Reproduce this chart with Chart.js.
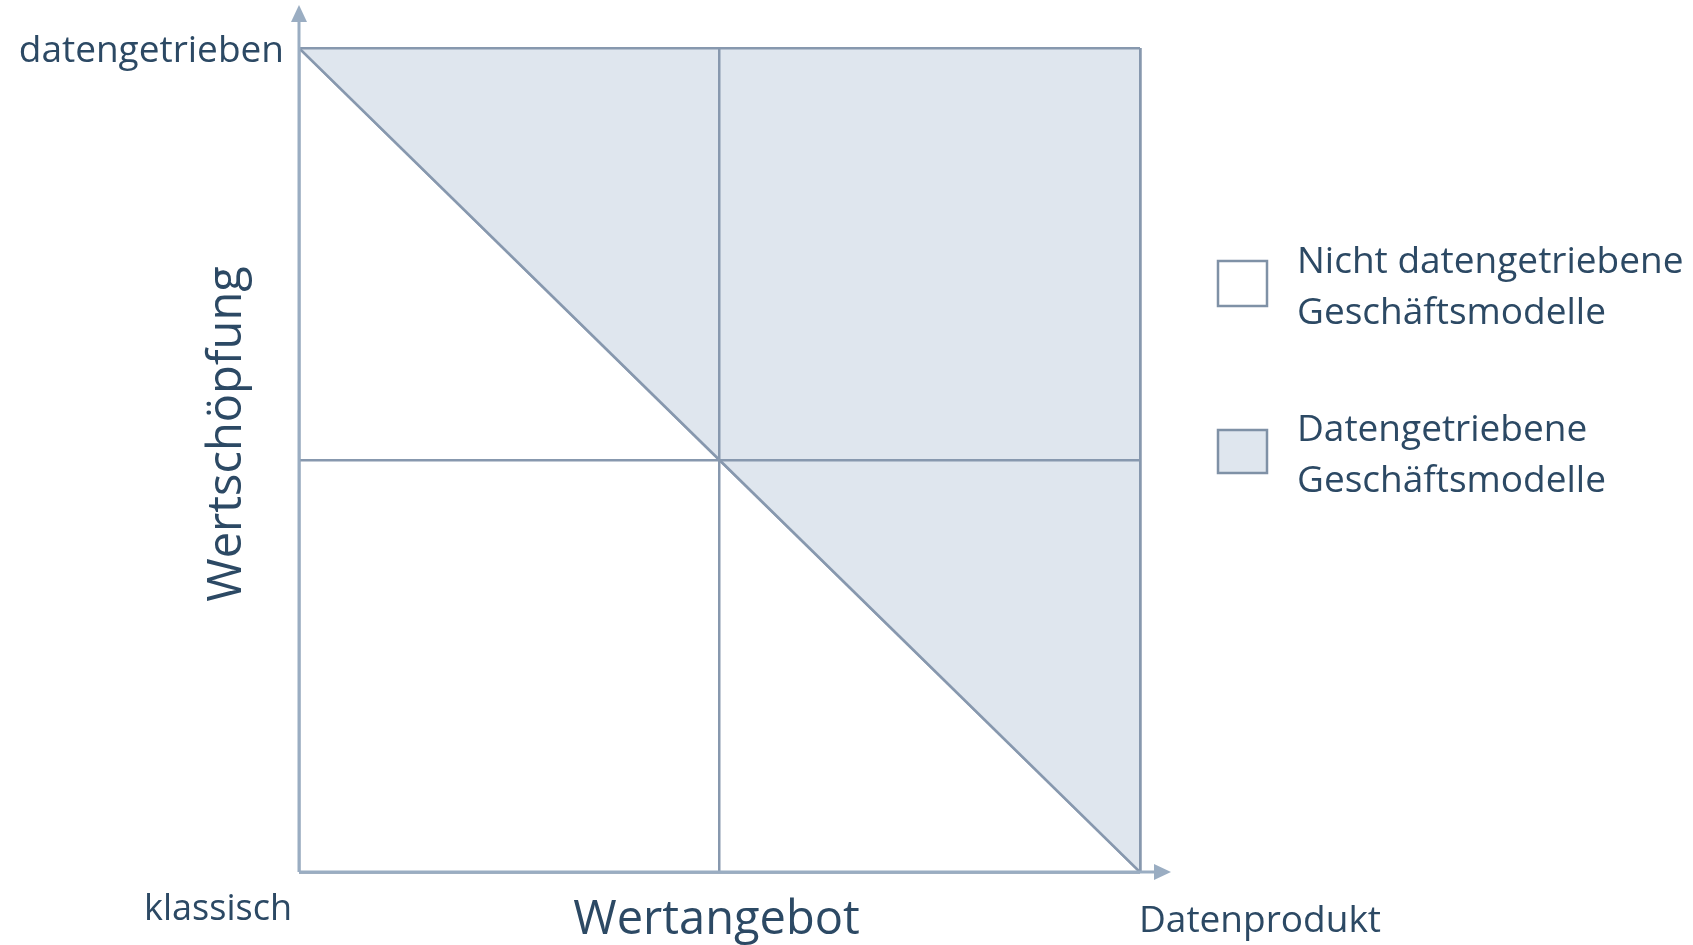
<!DOCTYPE html>
<html>
<head>
<meta charset="utf-8">
<script src="https://cdn.jsdelivr.net/npm/chart.js@4/dist/chart.umd.min.js"></script>
<style>
  html, body { margin: 0; padding: 0; background: #fff; }
  #wrap { width: 1693px; height: 945px; }
</style>
</head>
<body>
<div id="wrap"><canvas id="chart" width="1693" height="945"></canvas></div>
<script>
// Data
const seriesLabels = ["Nicht datengetriebene Geschäftsmodelle", "Datengetriebene Geschäftsmodelle"];
const diagonalX = [0, 1, 2];
const diagonalY = [2, 1, 0];
const xTickLabels = ["klassisch", "Datenprodukt"];
const yTickLabels = ["klassisch", "datengetrieben"];
const xTitle = "Wertangebot";
const yTitle = "Wertschöpfung";

const lineColor = '#8798ae';
const axisColor = '#9aadc2';
const fillColor = '#dfe6ee';
const textColor = '#2c4964';
const fontFamily = '"Open Sans", "Noto Sans", sans-serif';

const diagonal = diagonalX.map((x, i) => ({ x: x, y: diagonalY[i] }));

// grid lines go on top of the filled areas
const gridOnTop = {
    id: 'gridOnTop',
    afterDatasetsDraw(chart) {
        chart.scales.x.drawGrid(chart.chartArea);
        chart.scales.y.drawGrid(chart.chartArea);
    }
};

// axes with arrows, labels and legend
const decorations = {
    id: 'decorations',
    afterDraw(chart) {
        const ctx = chart.ctx;
        const xs = chart.scales.x, ys = chart.scales.y;
        const x0 = xs.getPixelForValue(0), x2 = xs.getPixelForValue(2);
        const y0 = ys.getPixelForValue(0), y2 = ys.getPixelForValue(2);
        ctx.save();

        // axis lines + arrow heads
        ctx.strokeStyle = axisColor;
        ctx.fillStyle = axisColor;
        ctx.lineWidth = 3;
        ctx.beginPath();
        ctx.moveTo(x0, y0);
        ctx.lineTo(x0, 20);
        ctx.moveTo(x0, y0);
        ctx.lineTo(x2 + 18, y0);
        ctx.stroke();
        ctx.beginPath();
        ctx.moveTo(x0, 5); ctx.lineTo(x0 - 8, 22); ctx.lineTo(x0 + 8, 22); ctx.closePath();
        ctx.fill();
        ctx.beginPath();
        ctx.moveTo(x2 + 31, y0); ctx.lineTo(x2 + 14, y0 - 8); ctx.lineTo(x2 + 14, y0 + 8); ctx.closePath();
        ctx.fill();

        // tick labels
        ctx.fillStyle = textColor;
        ctx.textBaseline = 'middle';
        ctx.font = '37px ' + fontFamily;
        ctx.textAlign = 'right';
        ctx.fillText(yTickLabels[1], x0 - 15, y2 + 3);
        ctx.font = '36px ' + fontFamily;
        ctx.fillText(xTickLabels[0], x0 - 7, y0 + 38);
        ctx.font = '37px ' + fontFamily;
        ctx.textAlign = 'left';
        ctx.fillText(xTickLabels[1], x2 - 1, y0 + 49);

        // axis titles
        ctx.font = '47px ' + fontFamily;
        ctx.textAlign = 'center';
        ctx.fillText(xTitle, xs.getPixelForValue(1) - 3, y0 + 49);
        ctx.save();
        ctx.translate(228, ys.getPixelForValue(1) - 26);
        ctx.rotate(-Math.PI / 2);
        ctx.fillText(yTitle, 0, 0);
        ctx.restore();

        // legend
        const fills = ['#ffffff', fillColor];
        const rows = [[261, 306], [430, 473]];
        ctx.font = '37px ' + fontFamily;
        ctx.textAlign = 'left';
        seriesLabels.forEach((lab, i) => {
            const [top, bot] = rows[i];
            ctx.fillStyle = fills[i];
            ctx.fillRect(1218, top, 49, bot - top);
            ctx.strokeStyle = '#7f91a6';
            ctx.lineWidth = 2.5;
            ctx.strokeRect(1218, top, 49, bot - top);
            const words = lab.split(' ');
            const line1 = words.slice(0, -1).join(' ');
            const line2 = words[words.length - 1];
            const mid = (top + bot) / 2;
            ctx.fillStyle = textColor;
            ctx.fillText(line1, 1297, mid - 21);
            ctx.fillText(line2, 1297, mid + 30);
        });
        ctx.restore();
    }
};

new Chart(document.getElementById('chart'), {
    type: 'scatter',
    data: {
        datasets: [
            {
                label: seriesLabels[1],
                data: diagonal,
                showLine: true,
                fill: 'end',
                backgroundColor: fillColor,
                borderColor: lineColor,
                borderWidth: 2.5,
                pointRadius: 0
            },
            {
                label: seriesLabels[0],
                data: diagonal,
                showLine: true,
                fill: 'start',
                backgroundColor: '#ffffff',
                borderColor: lineColor,
                borderWidth: 2.5,
                pointRadius: 0
            }
        ]
    },
    options: {
        responsive: false,
        animation: false,
        layout: { padding: { left: 299, right: 553, top: 48, bottom: 73 } },
        plugins: { legend: { display: false }, tooltip: { enabled: false } },
        scales: {
            x: {
                type: 'linear', min: 0, max: 2,
                ticks: { display: false, stepSize: 1, autoSkip: false },
                grid: { color: lineColor, lineWidth: 2.5, drawTicks: false },
                border: { display: false },
                afterFit: s => { s.height = 0; }
            },
            y: {
                type: 'linear', min: 0, max: 2,
                ticks: { display: false, stepSize: 1, autoSkip: false },
                grid: { color: lineColor, lineWidth: 2.5, drawTicks: false },
                border: { display: false },
                afterFit: s => { s.width = 0; }
            }
        }
    },
    plugins: [gridOnTop, decorations]
});
</script>
</body>
</html>
